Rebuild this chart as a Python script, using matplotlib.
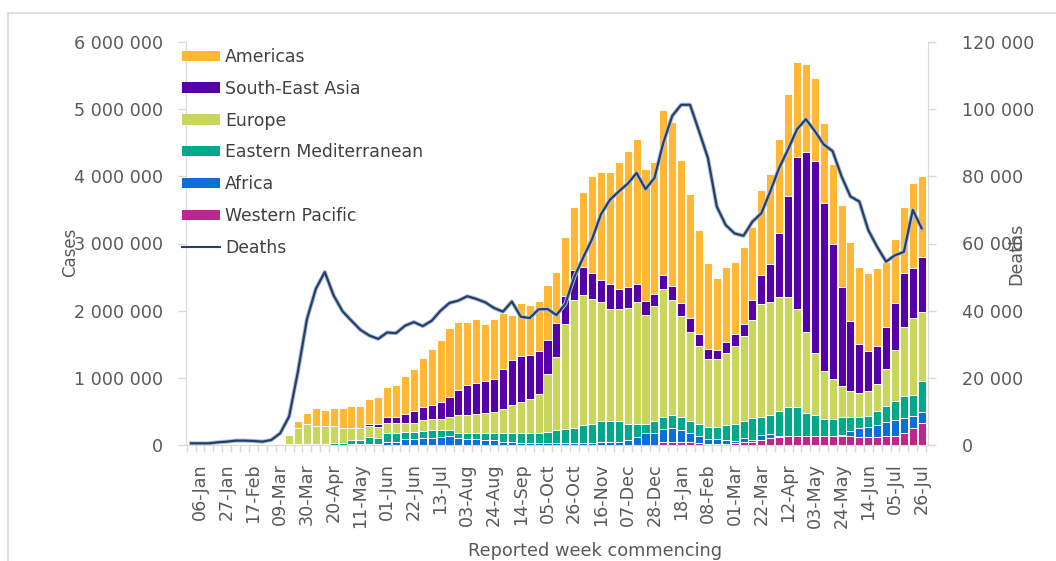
import matplotlib
matplotlib.use('Agg')
import matplotlib.pyplot as plt
import matplotlib.patheffects as pe
from matplotlib.patches import Rectangle, Patch
from matplotlib.lines import Line2D
from matplotlib.ticker import FuncFormatter
import numpy as np
import pandas as pd

# weekly reported cases by WHO region (thousands), weeks from 06-Jan-2020
weeks = pd.date_range('2020-01-06', '2021-07-26', freq='7D')
week_labels = [d.strftime('%d-%b') for d in weeks]

western_pacific = [0] * 52 + [
    40, 40, 40, 40, 30, 20, 20, 20, 30, 50, 50, 70, 110, 120, 130, 130, 130, 130,
    130, 130, 130, 130, 125, 125, 125, 135, 135, 175, 248, 323]
africa = [0] * 17 + [
    10, 10, 20, 20, 50, 50, 85, 85, 100, 110, 120, 130, 100, 90, 90, 80, 70, 50,
    40, 30, 30, 30, 30, 30, 30, 30, 30, 30, 40, 40, 50, 80, 120, 180, 180, 200,
    210, 180, 140, 100, 70, 70, 50, 30, 50, 30, 80, 60, 10, 10, 10, 10, 10, 10,
    10, 20, 80, 125, 150, 170, 200, 230, 225, 177, 173]
eastern_med = [0] * 10 + [
    10, 20, 20, 20, 20, 30, 30, 60, 60, 100, 80, 130, 130, 115, 115, 110, 110, 110,
    90, 80, 90, 90, 100, 110, 130, 140, 150, 150, 150, 160, 190, 210, 230, 270,
    290, 310, 310, 300, 240, 200, 140, 170, 170, 200, 190, 170, 190, 180, 180, 230,
    260, 260, 315, 270, 276, 380, 420, 420, 340, 306, 247, 247, 260, 200, 170, 161,
    215, 250, 295, 334, 315, 459]
europe = [0] * 10 + [
    140, 230, 300, 260, 260, 250, 220, 180, 180, 160, 170, 150, 150, 130, 130, 160,
    160, 160, 200, 260, 260, 280, 290, 310, 360, 410, 460, 510, 585, 860, 1090,
    1560, 1900, 1930, 1860, 1775, 1675, 1680, 1715, 1805, 1610, 1720, 1915, 1710,
    1515, 1335, 1150, 1005, 1005, 1070, 1150, 1260, 1465, 1680, 1684, 1697, 1647,
    1470, 1206, 928, 719, 590, 468, 398, 358, 374, 398, 545, 754, 1016, 1145, 1025]
south_east_asia = [0] * 19 + [
    40, 50, 80, 90, 130, 170, 190, 210, 255, 300, 380, 450, 470, 485, 500, 590,
    680, 690, 650, 635, 515, 510, 420, 440, 415, 380, 325, 365, 295, 315, 275, 220,
    185, 205, 205, 195, 205, 180, 160, 145, 165, 180, 185, 300, 430, 560, 943,
    1503, 2260, 2669, 2852, 2504, 2023, 1478, 1037, 725, 593, 570, 620, 706, 815,
    745, 820]
americas = [0] * 11 + [
    100, 160, 270, 240, 270, 300, 330, 330, 360, 400, 450, 470, 560, 630, 730, 840,
    915, 1020, 1015, 945, 940, 845, 880, 830, 660, 780, 740, 740, 815, 760, 880,
    940, 1125, 1440, 1620, 1680, 1885, 2030, 2150, 1960, 1960, 2460, 2445, 2120,
    1845, 1545, 1280, 1060, 1115, 1070, 1145, 1090, 1270, 1350, 1400, 1520, 1410,
    1315, 1244, 1186, 1190, 1214, 1181, 1147, 1152, 1152, 980, 940, 972, 1270, 1200]

# weekly deaths (thousands), weeks from 30-Dec-2019
deaths = [
    0.5, 0.5, 0.5, 0.8, 1.0, 1.3, 1.3, 1.2, 1.0, 1.5, 3.5, 8.5, 22, 37.5, 46.5,
    51.5, 44.5, 39.8, 37, 34.3, 32.6, 31.6, 33.5, 33.3, 35.5, 36.6, 35.4, 37, 40,
    42.3, 43, 44.3, 43.5, 42.5, 40.8, 39.7, 42.7, 38.2, 37.8, 40.4, 40.5, 38.7, 42,
    50, 55.8, 61.3, 68.7, 73, 75.5, 77.8, 81, 76.2, 79.5, 90, 98, 101.3, 101.3,
    93.5, 85.5, 71, 65.5, 63, 62.3, 66.5, 69, 75.5, 82.5, 88, 94, 97, 93.5, 89.5,
    87.5, 80, 74, 72.5, 64, 59, 54.6, 56.5, 57.5, 70, 64.5]

series = [
    ('Western Pacific', western_pacific, '#BE258F'),
    ('Africa', africa, '#0B6FD9'),
    ('Eastern Mediterranean', eastern_med, '#00A98A'),
    ('Europe', europe, '#C9D65C'),
    ('South-East Asia', south_east_asia, '#5500A8'),
    ('Americas', americas, '#FFB734'),
]
line_color = '#22406F'
grey = '#D9D9D9'
text_grey = '#595959'


def spaced(v, pos):
    return f'{int(round(v)):,}'.replace(',', ' ')


fig = plt.figure(figsize=(10.56, 5.61), dpi=100)
ax = fig.add_axes([185.5 / 1056, 1 - 445 / 561, 742 / 1056, 403 / 561])
ax2 = ax.twinx()

x = np.arange(len(weeks))
bottom = np.zeros(len(weeks))
for name, vals, col in series:
    v = np.array(vals) * 1000.0
    ax.bar(x, v, width=0.9, bottom=bottom, color=col, edgecolor='white',
           linewidth=0.7)
    bottom += v

deaths_x = np.arange(-1, len(weeks))
ax2.plot(deaths_x, np.array(deaths) * 1000, color=line_color, lw=1.6,
         path_effects=[pe.Stroke(linewidth=3.0, foreground='#B4BFD0'), pe.Normal()])

ax.set_xlim(-1.63, 81.65)
ax.set_ylim(0, 6e6)
ax2.set_ylim(0, 120000)
ax.set_yticks(np.arange(0, 6e6 + 1, 1e6))
ax2.set_yticks(np.arange(0, 120001, 20000))
ax.yaxis.set_major_formatter(FuncFormatter(spaced))
ax2.yaxis.set_major_formatter(FuncFormatter(spaced))

ax.set_xticks(x[::3])
ax.set_xticklabels(week_labels[::3], rotation=90, va='top', ha='center')
ax.set_xticks(np.arange(-1.5, len(weeks), 1), minor=True)
ax.tick_params(axis='x', which='major', length=0, pad=13, labelsize=12.6,
               labelcolor=text_grey)
ax.tick_params(axis='x', which='minor', length=5, color=grey, width=1)
ax.tick_params(axis='y', length=6, color=grey, width=1, pad=10, labelsize=12.6,
               labelcolor=text_grey)
ax2.tick_params(axis='y', length=6, color=grey, width=1, pad=19, labelsize=12.6,
                labelcolor=text_grey)

for a in (ax, ax2):
    a.spines['top'].set_visible(False)
ax.spines['right'].set_visible(False)
ax2.spines['left'].set_visible(False)
ax2.spines['bottom'].set_visible(False)
ax.spines['left'].set_color(grey)
ax.spines['bottom'].set_color(grey)
ax2.spines['right'].set_color(grey)

fig.text(70 / 1056, 1 - 252 / 561, 'Cases', rotation=90, ha='center', va='center',
         fontsize=12, color=text_grey)
fig.text(1016 / 1056, 1 - 254 / 561, 'Deaths', rotation=90, ha='center',
         va='center', fontsize=12.6, color=text_grey)
fig.text(595.5 / 1056, 1 - 551 / 561, 'Reported week commencing', ha='center',
         va='center', fontsize=12.8, color=text_grey)

handles = [Patch(facecolor=col, edgecolor='none') for name, vals, col in series[::-1]]
handles.append(Line2D([0], [0], color=line_color, lw=1.5))
labels = [name for name, vals, col in series[::-1]] + ['Deaths']
leg = fig.legend(handles, labels, loc='upper left',
                 bbox_to_anchor=(182 / 1056, 1 - 48 / 561), frameon=False,
                 fontsize=12.4, handlelength=2.2, handleheight=0.55,
                 handletextpad=0.3, labelspacing=0.8, borderpad=0,
                 borderaxespad=0)
for t in leg.get_texts():
    t.set_color('#404040')

fig.add_artist(Rectangle((8 / 1056, -0.5), 2, (1 - 13 / 561) + 0.5,
                         transform=fig.transFigure, fill=False, ec=grey, lw=1.2))

fig.savefig('out.png', dpi=100)
